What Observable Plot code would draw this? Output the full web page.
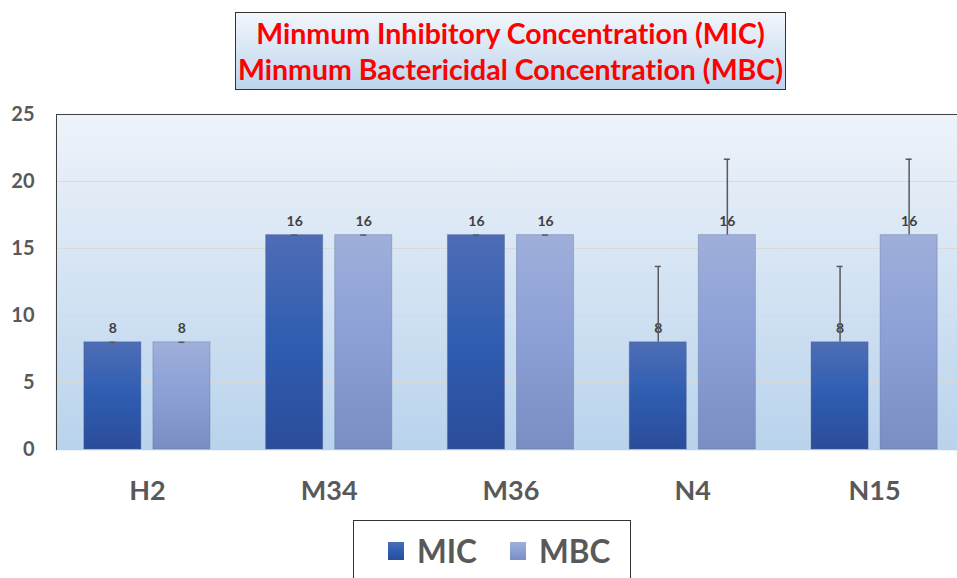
<!DOCTYPE html>
<html><head><meta charset="utf-8">
<script src="https://cdn.jsdelivr.net/npm/d3@7"></script>
<script src="https://cdn.jsdelivr.net/npm/@observablehq/plot@0.6"></script>
<style>
html,body{margin:0;padding:0;background:#fff;overflow:hidden;width:957px;height:578px}
#wrap{position:relative;width:957px;height:578px;overflow:hidden;font-family:Lato,"Open Sans",sans-serif;font-variant-ligatures:none}
#chart{position:absolute;left:0;top:0;width:965px}
#chart svg{max-width:none !important}
#title{position:absolute;left:235px;top:12px;width:549px;height:76px;border:1px solid #333;background:linear-gradient(#f2f6fb,#bcd4ec);color:#ff0000;font-weight:bold;font-size:28.5px;line-height:36px;text-align:center;display:flex;flex-direction:column;justify-content:center;box-sizing:content-box;font-variant-ligatures:none}
#legend{position:absolute;left:353px;top:520px;width:278px;height:80px;border:1px solid #333;background:#fff;display:flex;align-items:flex-start;justify-content:flex-start;padding-top:12px;padding-left:34px;box-sizing:border-box;gap:33px}
.item{display:flex;align-items:center;gap:13px;font-weight:bold;font-size:31.5px;color:#595959;line-height:36px}
.sw{width:16px;height:18px;display:inline-block}
</style></head>
<body><div id="wrap">
<div id="chart"></div>
<div id="title"><div>Minmum Inhibitory Concentration (MIC)</div><div>Minmum Bactericidal Concentration (MBC)</div></div>
<div id="legend"><div class="item"><span class="sw" style="background:linear-gradient(#4e6db5,#2f5db1,#2b4c9a)"></span>MIC</div><div class="item"><span class="sw" style="background:linear-gradient(#9eafda,#8c9fd6,#7a8ec3)"></span>MBC</div></div>
</div>
<script>
const categories = ["H2","M34","M36","N4","N15"];
const series = ["MIC","MBC"];
const micValues = [8,16,16,8,8];
const mbcValues = [8,16,16,16,16];
const micErrors = [0,0,0,5.66,5.66];
const mbcErrors = [0,0,0,5.66,5.66];
const yTicks = [0,5,10,15,20,25];

const rows = categories.flatMap((c,i)=>[
  {cat:c, series:"MIC", value:micValues[i], err:micErrors[i]},
  {cat:c, series:"MBC", value:mbcValues[i], err:mbcErrors[i]}
]);
const micRows = rows.filter(d=>d.series==="MIC");
const mbcRows = rows.filter(d=>d.series==="MBC");

const plot = Plot.plot({
  width:965, height:578, marginTop:114, marginBottom:129, marginLeft:56, marginRight:0,
  style:{fontFamily:"Lato, sans-serif", background:"transparent", overflow:"visible", maxWidth:"none"},
  fx:{domain:categories, padding:0, round:false, label:null},
  x:{domain:series, paddingInner:0.174, paddingOuter:0.403, round:false, axis:null},
  y:{domain:[0,25], label:null},
  marks:[
    Plot.frame({fill:"url(#bgGrad)", stroke:"url(#bgGrad)", strokeWidth:1.5}),
    Plot.gridY(yTicks.slice(1,-1), {stroke:"#d9d9d9", strokeOpacity:1, strokeWidth:1.2}),
    Plot.frame({anchor:"top", stroke:"#404040"}),
    Plot.frame({anchor:"left", stroke:"#404040", facetAnchor:"left"}),
    Plot.axisY({ticks:yTicks, tickSize:0, tickPadding:22, fontSize:20, fontWeight:"bold", fill:"#595959", label:null}),
    Plot.axisFx({anchor:"bottom", tickSize:0, tickPadding:31, fontSize:27, fontWeight:"bold", fill:"#595959", label:null}),
    Plot.barY(micRows, {fx:"cat", x:"series", y:"value", fill:"url(#gMIC)", stroke:"#4a5a88", strokeOpacity:0.35}),
    Plot.barY(mbcRows, {fx:"cat", x:"series", y:"value", fill:"url(#gMBC)", stroke:"#5a6a98", strokeOpacity:0.35}),
    Plot.text(rows, {fx:"cat", x:"series", y:"value", text:d=>String(d.value), dy:-14, fontSize:14, fontWeight:"bold", fill:"#404040"}),
    Plot.ruleX(rows.filter(d=>d.err>0), {fx:"cat", x:"series", y1:"value", y2:d=>d.value+d.err, stroke:"#595959", strokeWidth:1.5}),
    Plot.tickY(rows, {fx:"cat", x:"series", y:d=>d.value+d.err, stroke:"#595959", strokeWidth:1.5, insetLeft:25.5, insetRight:25.5})
  ]
});
document.getElementById("chart").appendChild(plot);
const defs = d3.select(plot).insert("defs", ":first-child");
function grad(id, stops){
  const g = defs.append("linearGradient").attr("id", id).attr("x1",0).attr("y1",0).attr("x2",0).attr("y2",1);
  stops.forEach(([o,c])=>g.append("stop").attr("offset",o).attr("stop-color",c));
}
grad("bgGrad", [[0,"#eef3fa"],[1,"#b9d3ec"]]);
grad("gMIC", [[0,"#4e6db5"],[0.5,"#2f5db1"],[1,"#2b4c9a"]]);
grad("gMBC", [[0,"#9eafda"],[0.5,"#8c9fd6"],[1,"#7a8ec3"]]);
</script>
</body></html>
